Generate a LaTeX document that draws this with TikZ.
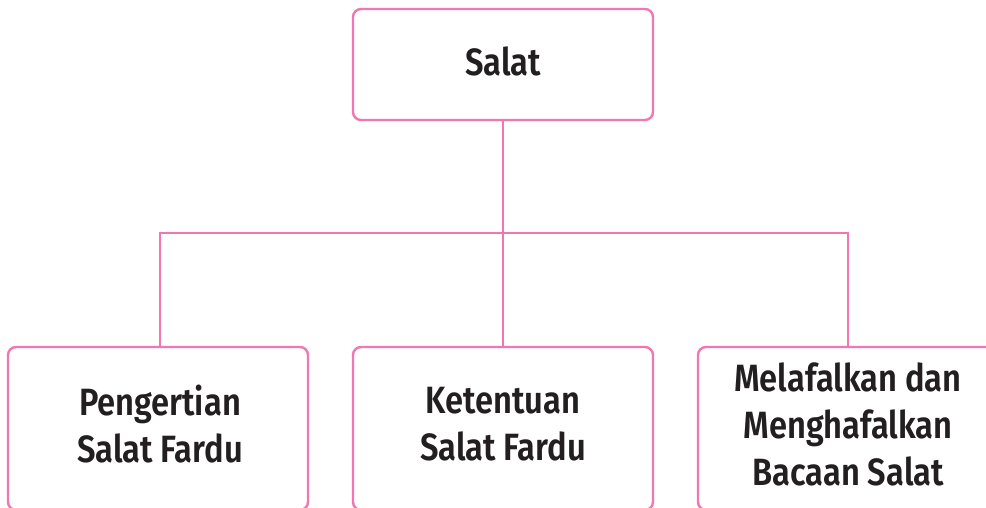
\documentclass[tikz,border=0pt]{standalone}
\usepackage{fontspec}
\setmainfont{Fira Sans}[UprightFont=* SemiBold, FakeStretch=0.86]
\definecolor{pinkline}{HTML}{F277B0}
\definecolor{txt}{HTML}{231F20}
\begin{document}
\begin{tikzpicture}[x=1pt,y=-1pt,
  box/.style={draw=pinkline, line width=2.4pt, rounded corners=8pt, fill=white, inner sep=0pt},
  label/.style={text=txt, align=center, font=\fontsize{38}{47}\selectfont},
  conn/.style={draw=pinkline, line width=2.4pt}]
\useasboundingbox (0,0) rectangle (986,508);
\node[box, minimum width=300pt, minimum height=111pt] (top) at (503,64.5) {};
\node[box, minimum width=300pt, minimum height=163pt] (left) at (158,428.5) {};
\node[box, minimum width=300pt, minimum height=163pt] (mid) at (503,428.5) {};
\node[box, minimum width=300pt, minimum height=163pt] (right) at (848,428.5) {};
\node[label] (tt) at (503,61) {Salat};
\node[label] (lt) at (160,424) {Pengertian\\Salat Fardu};
\node[label] (mt) at (503,424) {Ketentuan\\Salat Fardu};
\node[label] (rt) at (848,424) {Melafalkan dan\\Menghafalkan\\Bacaan Salat};
\coordinate (hb) at (503,233);
\draw[conn] (top.south) -- (mid.north);
\draw[conn] (left.north -| 160,0) |- (hb) -| (right.north);
\end{tikzpicture}
\end{document}
